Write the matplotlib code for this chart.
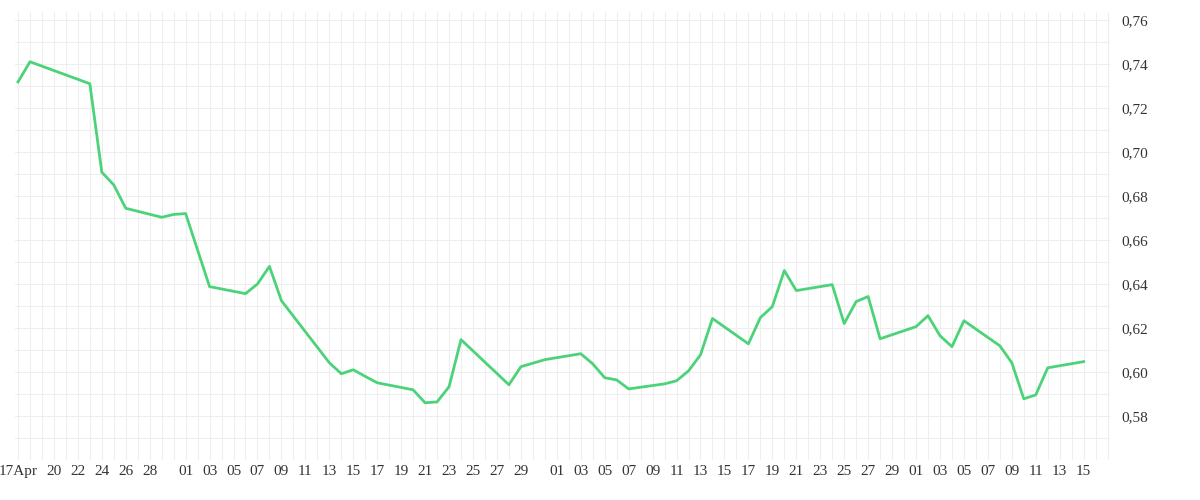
import pandas as pd
import matplotlib.pyplot as plt
import matplotlib.dates as mdates
from matplotlib.ticker import MultipleLocator, FuncFormatter, FixedLocator

start = "2023-04-17"
day_offsets = [0, 1, 6, 7, 8, 9, 12, 13, 14, 16, 19, 20, 21, 22, 26, 27, 28, 29, 30,
               33, 34, 35, 36, 37, 41, 42, 44, 47, 48, 49, 50, 51, 54, 55, 56, 57, 58,
               61, 62, 63, 64, 65, 68, 69, 70, 71, 72, 75, 76, 77, 78, 79, 82, 83, 84,
               85, 86, 89]
values = [0.7318, 0.741, 0.731, 0.6908, 0.685, 0.6744, 0.6703, 0.6716, 0.672, 0.6388,
          0.6356, 0.640, 0.648, 0.6324, 0.6042, 0.5992, 0.601, 0.598, 0.5951,
          0.5919, 0.586, 0.5864, 0.5933, 0.6147, 0.5942, 0.6024, 0.6056, 0.6083, 0.6037,
          0.5974, 0.5964, 0.5923, 0.5946, 0.596, 0.6005, 0.6078, 0.6243,
          0.6128, 0.6247, 0.6297, 0.6461, 0.6370, 0.6397, 0.622, 0.632, 0.6343, 0.6151,
          0.6206, 0.6256, 0.6165, 0.6115, 0.6233, 0.6119, 0.6042, 0.5878,
          0.5896, 0.6019, 0.6047]

# tick days: Apr 17,20..28 then odd days of May, June, July up to 15
tick_dates = (["2023-04-17"] + [f"2023-04-{d:02d}" for d in (20, 22, 24, 26, 28)]
              + [f"2023-05-{d:02d}" for d in range(1, 30, 2)]
              + [f"2023-06-{d:02d}" for d in range(1, 30, 2)]
              + [f"2023-07-{d:02d}" for d in range(1, 16, 2)])

t0 = pd.Timestamp(start)
dates = [t0 + pd.Timedelta(days=d) for d in day_offsets]

plt.rcParams["font.family"] = ["Liberation Serif", "DejaVu Serif"]
fig = plt.figure(figsize=(12, 5), dpi=100)
ax = fig.add_axes([0.0125, 0.08, 0.9125, 0.896])

ax.plot(dates, values, color="#4cd37a", linewidth=2)

ax.set_xlim(t0 - pd.Timedelta(hours=6), t0 + pd.Timedelta(days=91.2))
ax.set_ylim(0.56, 0.7636)

ax.xaxis.set_major_locator(FixedLocator([mdates.date2num(pd.Timestamp(t)) for t in tick_dates]))
ax.xaxis.set_minor_locator(mdates.DayLocator())


def fmt_date(x, pos):
    d = mdates.num2date(x)
    if d.month == 4 and d.day == 17:
        return "17Apr"
    return f"{d.day:02d}"


ax.xaxis.set_major_formatter(FuncFormatter(fmt_date))
ax.yaxis.tick_right()
ax.yaxis.set_major_locator(MultipleLocator(0.02))
ax.yaxis.set_minor_locator(MultipleLocator(0.01))
ax.yaxis.set_major_formatter(FuncFormatter(lambda v, p: f"{v:.2f}".replace(".", ",") if v > 0.57 else ""))

ax.grid(True, which="both", color="#eeeeee", linewidth=0.8)
ax.set_axisbelow(True)
for s in ax.spines.values():
    s.set_visible(False)
ax.tick_params(which="both", length=0, labelsize=11, colors="#333333")
ax.tick_params(axis="y", pad=8)

fig.savefig("out.png")
